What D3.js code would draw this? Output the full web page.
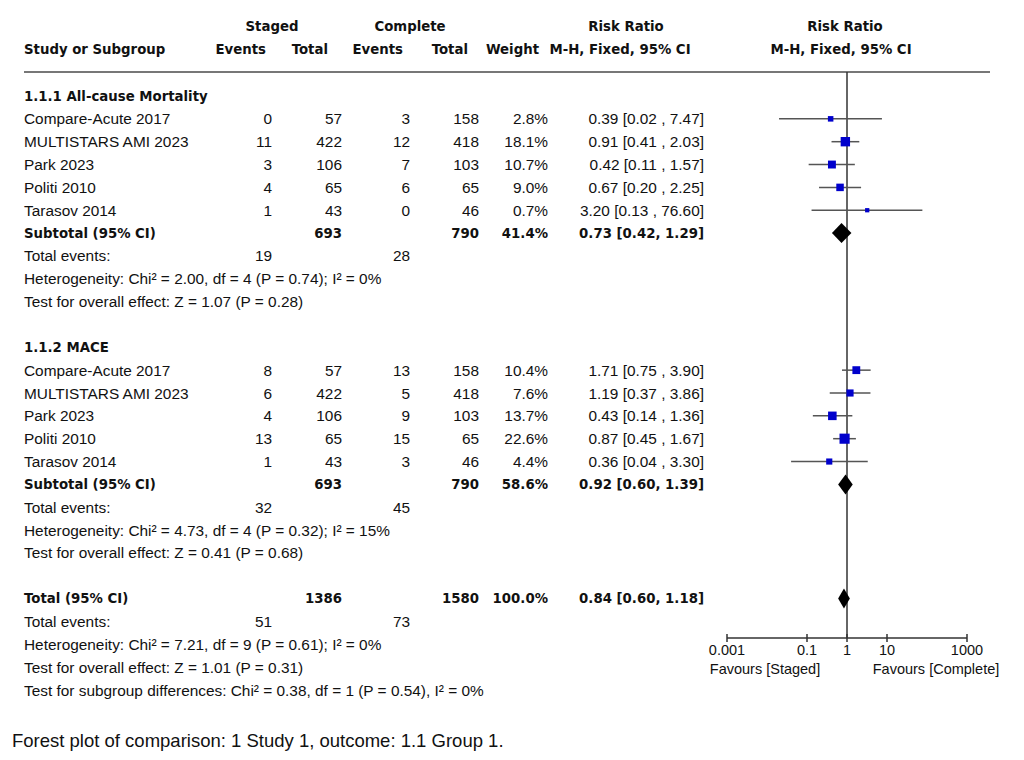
<!DOCTYPE html>
<html><head><meta charset="utf-8">
<script src="https://cdn.jsdelivr.net/npm/d3@7"></script>
<style>
html,body{margin:0;padding:0;background:#fff;}
svg{display:block;}
.t{font-family:"Liberation Sans",Arial,sans-serif;font-size:15.4px;fill:#111;}
.b{font-family:"DejaVu Sans",sans-serif;font-weight:bold;font-size:13.3px;fill:#111;}
</style></head>
<body>
<script>
// ---- data ----
const groupTitles = ["1.1.1 All-cause Mortality", "1.1.2 MACE"];
const studies = ["Compare-Acute 2017", "MULTISTARS AMI 2023", "Park 2023", "Politi 2010", "Tarasov 2014"];
const stagedEvents = [[0, 11, 3, 4, 1], [8, 6, 4, 13, 1]];
const stagedTotal = [[57, 422, 106, 65, 43], [57, 422, 106, 65, 43]];
const completeEvents = [[3, 12, 7, 6, 0], [13, 5, 9, 15, 3]];
const completeTotal = [[158, 418, 103, 65, 46], [158, 418, 103, 65, 46]];
const weights = [[2.8, 18.1, 10.7, 9.0, 0.7], [10.4, 7.6, 13.7, 22.6, 4.4]];
const rr = [[0.39, 0.91, 0.42, 0.67, 3.20], [1.71, 1.19, 0.43, 0.87, 0.36]];
const rrLo = [[0.02, 0.41, 0.11, 0.20, 0.13], [0.75, 0.37, 0.14, 0.45, 0.04]];
const rrHi = [[7.47, 2.03, 1.57, 2.25, 76.60], [3.90, 3.86, 1.36, 1.67, 3.30]];
const subStagedTotal = [693, 693];
const subCompleteTotal = [790, 790];
const subWeight = [41.4, 58.6];
const subRR = [0.73, 0.92];
const subLo = [0.42, 0.60];
const subHi = [1.29, 1.39];
const subStagedEvents = [19, 32];
const subCompleteEvents = [28, 45];
const subHet = ["Heterogeneity: Chi² = 2.00, df = 4 (P = 0.74); I² = 0%", "Heterogeneity: Chi² = 4.73, df = 4 (P = 0.32); I² = 15%"];
const subTest = ["Test for overall effect: Z = 1.07 (P = 0.28)", "Test for overall effect: Z = 0.41 (P = 0.68)"];
const totStaged = 1386, totComplete = 1580, totWeight = 100.0;
const totRR = 0.84, totLo = 0.60, totHi = 1.18;
const totStagedEvents = 51, totCompleteEvents = 73;
const totLines = ["Heterogeneity: Chi² = 7.21, df = 9 (P = 0.61); I² = 0%",
  "Test for overall effect: Z = 1.01 (P = 0.31)",
  "Test for subgroup differences: Chi² = 0.38, df = 1 (P = 0.54), I² = 0%"];
const axisTicks = [0.001, 0.1, 1, 10, 1000];
const favours = ["Favours [Staged]", "Favours [Complete]"];
const caption = "Forest plot of comparison: 1 Study 1, outcome: 1.1 Group 1.";

// ---- layout ----
const W = 1024, H = 760;
const svg = d3.select("body").append("svg").attr("width", W).attr("height", H);
const x = d3.scaleLog().domain([0.001, 1000]).range([727, 967]);
const y = d3.scaleLinear().domain([0, 26]).range([96, 690]);
const col = {name: 24, sE: 272, sT: 342, cE: 410, cT: 479, w: 548, rr: 704};
const f2 = d3.format(".2f"), f1 = d3.format(".1f");

function txt(cls, xx, yy, s, anchor) {
  return svg.append("text").attr("class", cls).attr("x", xx).attr("y", yy)
    .attr("dy", "0.36em").attr("text-anchor", anchor || "start").text(s);
}

// header
txt("b", 272, 26, "Staged", "middle");
txt("b", 410, 26, "Complete", "middle");
txt("b", 626, 26, "Risk Ratio", "middle");
txt("b", 845, 26, "Risk Ratio", "middle");
txt("b", col.name, 49, "Study or Subgroup");
txt("b", 266, 49, "Events", "end");
txt("b", 328, 49, "Total", "end");
txt("b", 403, 49, "Events", "end");
txt("b", 468, 49, "Total", "end");
txt("b", 539, 49, "Weight", "end");
txt("b", 620, 49, "M-H, Fixed, 95% CI", "middle");
txt("b", 841, 49, "M-H, Fixed, 95% CI", "middle");
svg.append("line").attr("x1", 24).attr("x2", 990).attr("y1", 72).attr("y2", 72)
  .attr("stroke", "#777").attr("stroke-width", 2);

// vertical null line
svg.append("line").attr("x1", x(1)).attr("x2", x(1)).attr("y1", 72).attr("y2", 638)
  .attr("stroke", "#333").attr("stroke-width", 1.5);

function ciText(r, lo, hi) { return f2(r) + " [" + f2(lo) + " , " + f2(hi) + "]"; }
function ciTextB(r, lo, hi) { return f2(r) + " [" + f2(lo) + ", " + f2(hi) + "]"; }
function diamond(r, lo, hi, yy) {
  const h = 10;
  svg.append("path").attr("d", `M${x(lo)},${yy} L${x(r)},${yy - h} L${x(hi)},${yy} L${x(r)},${yy + h} Z`)
    .attr("fill", "#000");
}

groupTitles.forEach((g, gi) => {
  const base = gi * 11;
  txt("b", col.name, y(base), g);
  studies.forEach((s, i) => {
    const yy = y(base + 1 + i);
    txt("t", col.name, yy, s);
    txt("t", col.sE, yy, stagedEvents[gi][i], "end");
    txt("t", col.sT, yy, stagedTotal[gi][i], "end");
    txt("t", col.cE, yy, completeEvents[gi][i], "end");
    txt("t", col.cT, yy, completeTotal[gi][i], "end");
    txt("t", col.w, yy, f1(weights[gi][i]) + "%", "end");
    txt("t", col.rr, yy, ciText(rr[gi][i], rrLo[gi][i], rrHi[gi][i]), "end");
    svg.append("line").attr("x1", x(rrLo[gi][i])).attr("x2", x(rrHi[gi][i]))
      .attr("y1", yy).attr("y2", yy).attr("stroke", "#555").attr("stroke-width", 1.5);
    const sz = 3 + 1.5 * Math.sqrt(weights[gi][i]);
    svg.append("rect").attr("x", x(rr[gi][i]) - sz / 2).attr("y", yy - sz / 2)
      .attr("width", sz).attr("height", sz).attr("fill", "#0000cc");
  });
  const ys = y(base + 6);
  txt("b", col.name, ys, "Subtotal (95% CI)");
  txt("b", col.sT, ys, subStagedTotal[gi], "end");
  txt("b", col.cT, ys, subCompleteTotal[gi], "end");
  txt("b", col.w, ys, f1(subWeight[gi]) + "%", "end");
  txt("b", col.rr, ys, ciTextB(subRR[gi], subLo[gi], subHi[gi]), "end");
  diamond(subRR[gi], subLo[gi], subHi[gi], ys);
  txt("t", col.name, y(base + 7), "Total events:");
  txt("t", col.sE, y(base + 7), subStagedEvents[gi], "end");
  txt("t", col.cE, y(base + 7), subCompleteEvents[gi], "end");
  txt("t", col.name, y(base + 8), subHet[gi]);
  txt("t", col.name, y(base + 9), subTest[gi]);
});

// overall
const yt = y(22);
txt("b", col.name, yt, "Total (95% CI)");
txt("b", col.sT, yt, totStaged, "end");
txt("b", col.cT, yt, totComplete, "end");
txt("b", col.w, yt, f1(totWeight) + "%", "end");
txt("b", col.rr, yt, ciTextB(totRR, totLo, totHi), "end");
diamond(totRR, totLo, totHi, yt);
txt("t", col.name, y(23), "Total events:");
txt("t", col.sE, y(23), totStagedEvents, "end");
txt("t", col.cE, y(23), totCompleteEvents, "end");
totLines.forEach((s, i) => txt("t", col.name, y(24 + i), s));

// axis
const ax = svg.append("g").attr("transform", "translate(0,638)");
ax.append("line").attr("x1", x(0.001)).attr("x2", x(1000)).attr("stroke", "#333").attr("stroke-width", 1.5);
ax.selectAll(".tk").data(axisTicks).enter().append("line")
  .attr("x1", d => x(d)).attr("x2", d => x(d)).attr("y1", -4).attr("y2", 4)
  .attr("stroke", "#333").attr("stroke-width", 1.5);
ax.selectAll(".tl").data(axisTicks).enter().append("text").attr("class", "t")
  .style("font-size", "14.5px")
  .attr("x", d => x(d)).attr("y", 12).attr("dy", "0.36em").attr("text-anchor", "middle")
  .text(d => d < 1 ? String(d) : d3.format("d")(d));
txt("t", 765, 669, favours[0], "middle").style("font-size", "14.5px");
txt("t", 936, 669, favours[1], "middle").style("font-size", "14.5px");

// caption
svg.append("text").attr("class", "t").attr("x", 12).attr("y", 740).attr("dy", "0.36em")
  .style("font-size", "18.5px").text(caption);
</script>
</body></html>
